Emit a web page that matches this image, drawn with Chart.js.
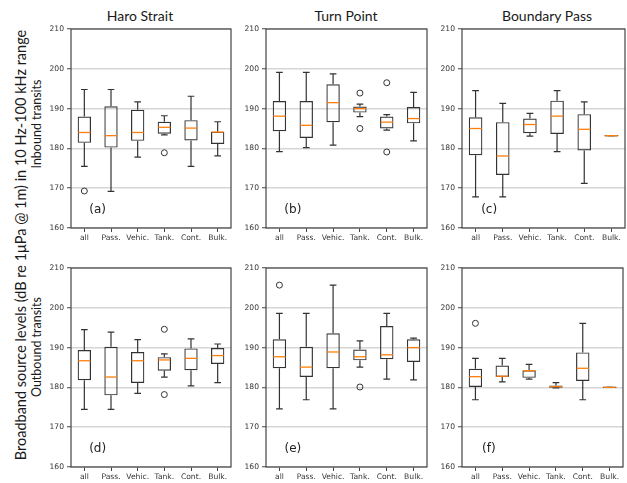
<!DOCTYPE html>
<html>
<head>
<meta charset="utf-8">
<script src="https://cdn.jsdelivr.net/npm/chart.js@4"></script>
<style>
  html, body { margin: 0; padding: 0; background: #fff; }
  #fig { position: relative; width: 627px; height: 483px; overflow: hidden; background: #fff; }
  #fig canvas { position: absolute; }
  .title { position: absolute; font-family: Lato, "Open Sans", sans-serif; font-size: 14px; color: #1a1a1a;
           transform: translateX(-50%); white-space: nowrap; line-height: 1; }
  .ylab { position: absolute; font-family: Lato, "Open Sans", sans-serif; color: #1a1a1a; white-space: nowrap;
          line-height: 1; transform: translate(-50%, -50%) rotate(-90deg); }
</style>
</head>
<body>
<div id="fig">
  <div class="title" style="left:140px; top:9px;">Haro Strait</div>
  <div class="title" style="left:346px; top:9px;">Turn Point</div>
  <div class="title" style="left:547px; top:9px;">Boundary Pass</div>
  <div class="ylab" style="left:21px; top:245px; font-size:14.5px;">Broadband source levels (dB re 1μPa @ 1m) in 10 Hz-100 kHz range</div>
  <div class="ylab" style="left:37px; top:124px; font-size:12.5px;">Inbound transits</div>
  <div class="ylab" style="left:37px; top:347px; font-size:12.5px;">Outbound transits</div>
  <canvas id="cA"></canvas>
  <canvas id="cB"></canvas>
  <canvas id="cC"></canvas>
  <canvas id="cD"></canvas>
  <canvas id="cE"></canvas>
  <canvas id="cF"></canvas>
</div>
<script>
// Vessel categories along each x axis
const categories = ['all', 'Pass.', 'Vehic.', 'Tank.', 'Cont.', 'Bulk.'];
const yTicks = [160, 170, 180, 190, 200, 210];

// Five-number summaries per category: [lower whisker, Q1, median, Q3, upper whisker]
const haroInbound = [
  [175.5, 181.4, 184.0, 188.0, 194.8],
  [169.2, 180.2, 183.2, 190.6, 194.8],
  [177.8, 181.9, 184.0, 189.7, 191.7],
  [183.4, 183.7, 185.3, 186.7, 188.2],
  [175.5, 182.0, 185.1, 187.1, 193.1],
  [178.1, 181.1, 184.1, 184.2, 186.7]
];
const haroInboundOutliers = [[169.3], [], [], [178.9], [], []];

const turnInbound = [
  [179.2, 184.3, 188.1, 191.9, 199.1],
  [180.2, 182.6, 185.8, 191.9, 199.1],
  [180.8, 186.6, 191.5, 196.1, 198.7],
  [188.0, 189.0, 190.0, 190.5, 191.1],
  [184.6, 185.0, 186.6, 188.0, 188.5],
  [181.9, 186.3, 187.5, 190.4, 194.1]
];
const turnInboundOutliers = [[], [], [], [193.9, 185.0], [196.5, 179.1], []];

const boundaryInbound = [
  [167.8, 178.3, 185.0, 187.8, 194.5],
  [167.8, 173.3, 178.1, 186.6, 191.3],
  [183.1, 183.8, 186.0, 187.5, 188.8],
  [179.2, 183.6, 188.1, 192.0, 194.5],
  [171.2, 179.5, 184.8, 188.6, 191.7],
  [183.2, 183.2, 183.2, 183.2, 183.2]
];
const boundaryInboundOutliers = [[], [], [], [], [], []];

const haroOutbound = [
  [174.5, 181.8, 186.7, 189.4, 194.5],
  [174.5, 178.0, 182.6, 190.2, 193.9],
  [178.5, 181.1, 186.7, 188.9, 192.0],
  [182.6, 184.2, 186.9, 187.6, 188.4],
  [180.4, 184.3, 187.3, 189.8, 192.2],
  [181.2, 185.9, 188.0, 189.9, 190.9]
];
const haroOutboundOutliers = [[], [], [], [194.6, 178.2], [], []];

const turnOutbound = [
  [174.6, 184.8, 187.7, 192.1, 198.6],
  [176.9, 182.6, 185.1, 190.2, 198.6],
  [174.6, 184.8, 188.9, 193.6, 205.7],
  [185.1, 186.8, 187.7, 189.5, 191.7],
  [182.1, 187.1, 188.2, 195.4, 198.6],
  [181.9, 186.4, 190.0, 192.1, 192.4]
];
const turnOutboundOutliers = [[205.7], [], [], [180.1], [], []];

const boundaryOutbound = [
  [176.9, 180.1, 182.7, 184.7, 187.3],
  [181.4, 182.6, 182.8, 185.5, 187.3],
  [182.1, 182.4, 184.2, 184.3, 185.8],
  [179.9, 179.9, 180.2, 180.5, 181.2],
  [176.9, 181.6, 184.8, 188.8, 196.1],
  [180.0, 180.0, 180.0, 180.0, 180.0]
];
const boundaryOutboundOutliers = [[196.1], [], [], [], [], []];

const panelTags = ['(a)', '(b)', '(c)', '(d)', '(e)', '(f)'];

// Plot-area placement of each panel on the page
const plotLefts = [71, 266, 462];
const plotWidths = [162, 163, 163];
const plotTops = [29, 268];
const plotHeight = 199;
const yAxisWidth = 44, xAxisHeight = 20, padTop = 8, padRight = 3;

const EDGE = '#333333';
const MEDIAN = '#ff7f0e';
const SPINE = '#444444';
const TICKTXT = '#333333';

// Whiskers, caps and medians, drawn through the chart's own scales
const boxWhiskerPlugin = {
  id: 'boxWhisker',
  afterDatasetsDraw(chart, args, opts) {
    const stats = opts.stats;
    if (!stats) return;
    const ctx = chart.ctx;
    const ys = chart.scales.y;
    const bars = chart.getDatasetMeta(0).data;
    ctx.save();
    ctx.lineCap = 'butt';
    stats.forEach((s, i) => {
      const bar = bars[i];
      const cx = bar.x;
      const half = bar.width / 2;
      const yLo = ys.getPixelForValue(s[0]);
      const yQ1 = ys.getPixelForValue(s[1]);
      const yMed = ys.getPixelForValue(s[2]);
      const yQ3 = ys.getPixelForValue(s[3]);
      const yHi = ys.getPixelForValue(s[4]);
      ctx.strokeStyle = EDGE;
      ctx.lineWidth = 1.2;
      ctx.beginPath();
      ctx.moveTo(cx, yQ1); ctx.lineTo(cx, yLo);
      ctx.moveTo(cx, yQ3); ctx.lineTo(cx, yHi);
      ctx.moveTo(cx - half / 2, yLo); ctx.lineTo(cx + half / 2, yLo);
      ctx.moveTo(cx - half / 2, yHi); ctx.lineTo(cx + half / 2, yHi);
      ctx.stroke();
      if (s[1] === s[3]) {
        ctx.beginPath();
        ctx.moveTo(cx - half, yQ1); ctx.lineTo(cx + half, yQ1);
        ctx.stroke();
      }
      ctx.strokeStyle = MEDIAN;
      ctx.lineWidth = 1.3;
      ctx.beginPath();
      ctx.moveTo(cx - half + 0.6, yMed); ctx.lineTo(cx + half - 0.6, yMed);
      ctx.stroke();
    });
    ctx.restore();
  }
};

// Closed frame around the plot area plus the panel letter
const framePlugin = {
  id: 'frame',
  afterDraw(chart, args, opts) {
    const ctx = chart.ctx;
    const a = chart.chartArea;
    ctx.save();
    ctx.strokeStyle = SPINE;
    ctx.lineWidth = 1.2;
    ctx.strokeRect(a.left, a.top, a.right - a.left, a.bottom - a.top);
    if (opts.tag) {
      ctx.fillStyle = '#222';
      ctx.font = '12px "DejaVu Sans"';
      ctx.textAlign = 'center';
      ctx.textBaseline = 'middle';
      ctx.fillText(opts.tag, chart.scales.x.getPixelForValue(0.5), chart.scales.y.getPixelForValue(164.6));
    }
    ctx.restore();
  }
};

function buildPanel(canvasId, stats, outliers, tag, col, row) {
  const cv = document.getElementById(canvasId);
  const w = plotWidths[col] + yAxisWidth + padRight;
  const h = plotHeight + padTop + xAxisHeight;
  cv.width = w; cv.height = h;
  cv.style.width = w + 'px'; cv.style.height = h + 'px';
  cv.style.left = (plotLefts[col] - yAxisWidth) + 'px';
  cv.style.top = (plotTops[row] - padTop) + 'px';

  const outlierPoints = [];
  outliers.forEach((list, i) => list.forEach(v => outlierPoints.push({ x: categories[i], y: v })));

  return new Chart(cv, {
    type: 'bar',
    data: {
      labels: categories,
      datasets: [
        {
          data: stats.map(s => [s[1], s[3]]),
          backgroundColor: 'rgba(255,255,255,0)',
          borderColor: EDGE,
          borderWidth: 1.2,
          borderSkipped: false,
          barPercentage: 0.5,
          categoryPercentage: 1.0,
          grouped: false
        },
        {
          type: 'line',
          data: outlierPoints,
          showLine: false,
          pointStyle: 'circle',
          pointRadius: 3,
          pointBorderWidth: 1,
          pointBorderColor: EDGE,
          pointBackgroundColor: 'rgba(255,255,255,0)'
        }
      ]
    },
    options: {
      responsive: false,
      animation: false,
      devicePixelRatio: 1,
      events: [],
      layout: { padding: { top: padTop, right: padRight, left: 0, bottom: 0 } },
      plugins: {
        legend: { display: false },
        tooltip: { enabled: false },
        title: { display: false },
        boxWhisker: { stats: stats },
        frame: { tag: tag }
      },
      scales: {
        x: {
          type: 'category',
          offset: true,
          grid: { offset: false, drawOnChartArea: false, drawTicks: true, tickLength: 4, tickColor: SPINE, tickWidth: 1 },
          border: { display: false },
          ticks: { padding: 1, maxRotation: 0, autoSkip: false, color: TICKTXT, font: { family: 'DejaVu Sans', size: 7.6 } },
          afterFit(scale) { scale.height = xAxisHeight; }
        },
        y: {
          min: yTicks[0],
          max: yTicks[yTicks.length - 1],
          afterBuildTicks(scale) { scale.ticks = yTicks.map(v => ({ value: v })); },
          grid: { color: '#d6d6d6', lineWidth: 1.5, drawTicks: true, tickLength: 4, tickColor: SPINE, tickWidth: 1 },
          border: { display: false },
          ticks: { padding: 3, color: TICKTXT, font: { family: 'DejaVu Sans', size: 7.6 } },
          afterFit(scale) { scale.width = yAxisWidth; }
        }
      }
    },
    plugins: [boxWhiskerPlugin, framePlugin]
  });
}

buildPanel('cA', haroInbound, haroInboundOutliers, panelTags[0], 0, 0);
buildPanel('cB', turnInbound, turnInboundOutliers, panelTags[1], 1, 0);
buildPanel('cC', boundaryInbound, boundaryInboundOutliers, panelTags[2], 2, 0);
buildPanel('cD', haroOutbound, haroOutboundOutliers, panelTags[3], 0, 1);
buildPanel('cE', turnOutbound, turnOutboundOutliers, panelTags[4], 1, 1);
buildPanel('cF', boundaryOutbound, boundaryOutboundOutliers, panelTags[5], 2, 1);
</script>
</body>
</html>
